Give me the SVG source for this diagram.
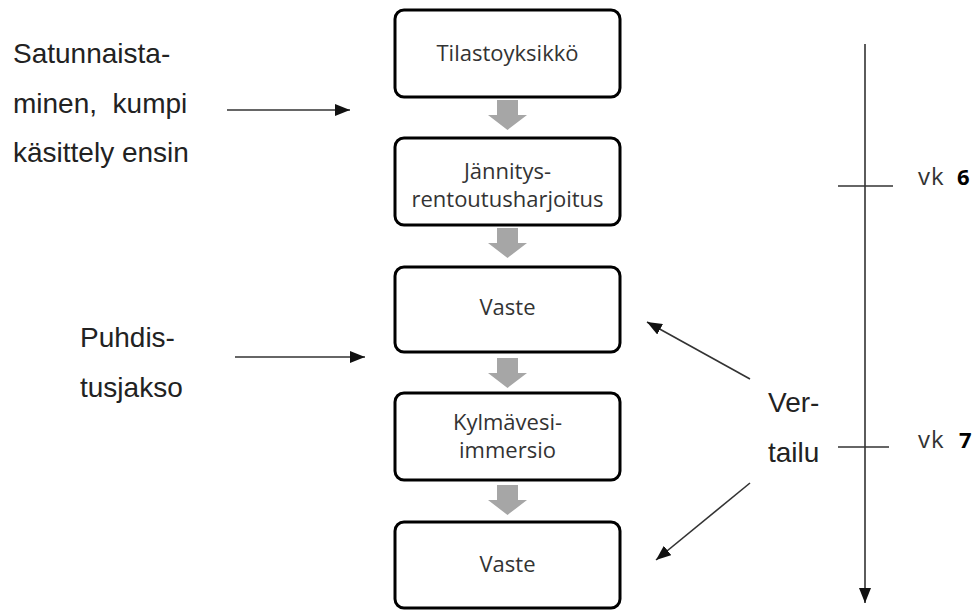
<svg xmlns="http://www.w3.org/2000/svg" width="979" height="610" viewBox="0 0 979 610">
<style>
.box{fill:#fff;stroke:#000;stroke-width:3}
.bt{font-family:"Open Sans","Noto Sans",sans-serif;font-size:22px;fill:#333;text-anchor:middle}
.lt{font-family:"Liberation Sans",Arial,sans-serif;font-size:28px;fill:#222}
.ln{stroke:#333;stroke-width:1.6;fill:none}
.ga{fill:#a6a6a6}
.vk{font-family:"Open Sans","Noto Sans",sans-serif;font-size:24px;fill:#333;letter-spacing:1px}
.num{font-family:"Open Sans","Noto Sans",sans-serif;font-size:22px;font-weight:bold;fill:#000}
</style>
<defs>
<marker id="ah" markerUnits="userSpaceOnUse" markerWidth="16" markerHeight="12" refX="15" refY="6" orient="auto">
<path d="M0,0 L15,6 L0,12 Z" fill="#111"/>
</marker>
</defs>
<rect width="979" height="610" fill="#fff"/>

<g id="n1"><rect class="box" x="395" y="10" width="225" height="87" rx="9"/><text class="bt" x="507.5" y="61">Tilastoyksikkö</text></g>
<g id="n2"><rect class="box" x="395" y="138" width="225" height="87" rx="9"/><text class="bt" x="507.5" y="179">Jännitys-</text><text class="bt" x="507.5" y="207">rentoutusharjoitus</text></g>
<g id="n3"><rect class="box" x="395" y="267" width="225" height="85" rx="9"/><text class="bt" x="507.5" y="315">Vaste</text></g>
<g id="n4"><rect class="box" x="395" y="393" width="225" height="87" rx="9"/><text class="bt" x="507.5" y="430">Kylmävesi-</text><text class="bt" x="507.5" y="458">immersio</text></g>
<g id="n5"><rect class="box" x="395" y="522" width="225" height="86" rx="9"/><text class="bt" x="507.5" y="572">Vaste</text></g>

<g id="flow-arrows">
<path class="ga" d="M497,100 H518 V115 H527 L507.5,130 L488,115 H497 Z"/>
<path class="ga" d="M497,228 H518 V243 H527 L507.5,258 L488,243 H497 Z"/>
<path class="ga" d="M497,358 H518 V373 H527 L507.5,388 L488,373 H497 Z"/>
<path class="ga" d="M497,485 H518 V500 H527 L507.5,515 L488,500 H497 Z"/>
</g>

<g id="satunnaistaminen"><text class="lt" x="13" y="63">Satunnaista-</text><text class="lt" x="13" y="113" xml:space="preserve">minen,  kumpi</text><text class="lt" x="13" y="162">käsittely ensin</text></g>
<g id="puhdistusjakso"><text class="lt" x="80" y="347">Puhdis-</text><text class="lt" x="80" y="397">tusjakso</text></g>
<g id="vertailu"><text class="lt" x="768" y="412">Ver-</text><text class="lt" x="768" y="462">tailu</text></g>
<g id="vk6"><text class="vk" x="918" y="185">vk</text><text class="num" x="957" y="185">6</text></g>
<g id="vk7"><text class="vk" x="918" y="448">vk</text><text class="num" x="959" y="448">7</text></g>

<g id="connectors">
<line class="ln" x1="227" y1="110" x2="350" y2="110" marker-end="url(#ah)"/>
<line class="ln" x1="235" y1="357" x2="365" y2="357" marker-end="url(#ah)"/>
<line class="ln" x1="750" y1="379" x2="647" y2="322" marker-end="url(#ah)"/>
<line class="ln" x1="750" y1="483" x2="656" y2="560" marker-end="url(#ah)"/>
<line class="ln" x1="865" y1="44" x2="865" y2="603" marker-end="url(#ah)"/>
<line class="ln" x1="838" y1="186" x2="893" y2="186"/>
<line class="ln" x1="838" y1="447" x2="889" y2="447"/>
</g>
</svg>
